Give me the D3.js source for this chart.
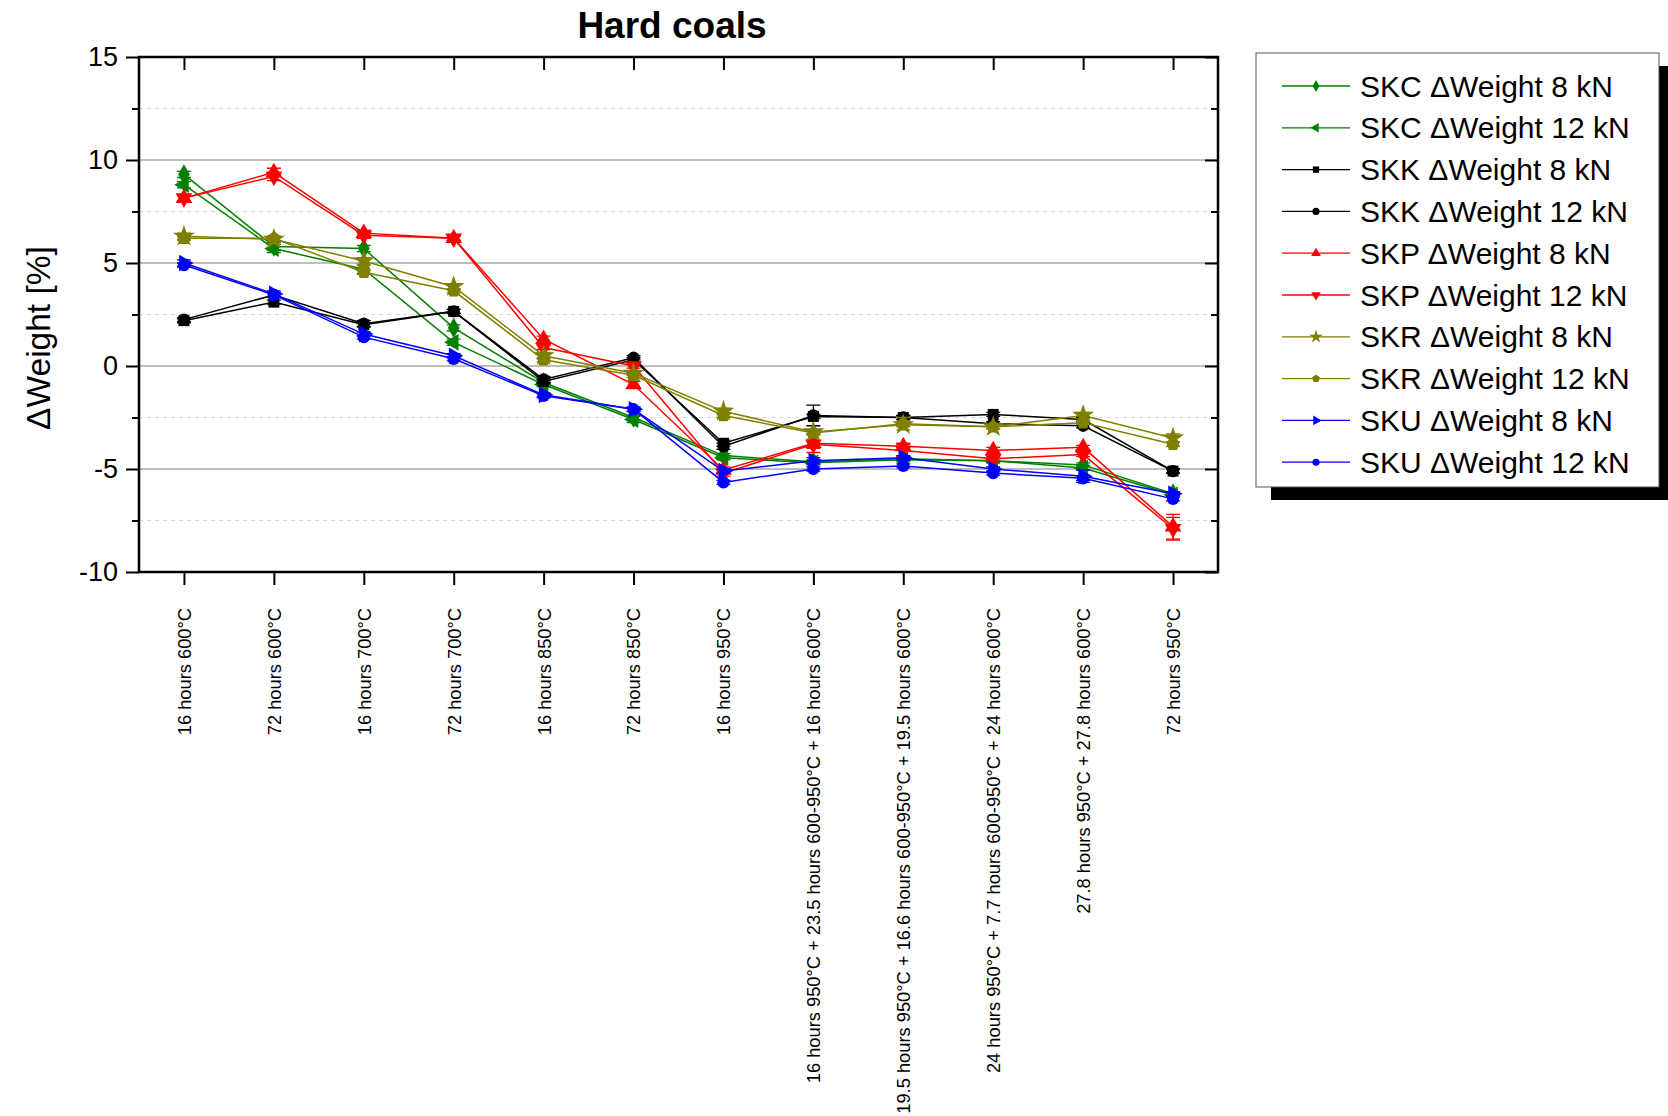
<!DOCTYPE html>
<html>
<head>
<meta charset="utf-8">
<script src="https://d3js.org/d3.v7.min.js"></script>
<style>
    body { margin: 0; background: #ffffff; }
    svg { display: block; font-family: "Liberation Sans", Arial, sans-serif; }
</style>
</head>
<body>
<svg id="drawing_region"></svg>
<script>
const categories = [
    "16 hours 600°C",
    "72 hours 600°C",
    "16 hours 700°C",
    "72 hours 700°C",
    "16 hours 850°C",
    "72 hours 850°C",
    "16 hours 950°C",
    "16 hours 950°C + 23.5 hours 600-950°C + 16 hours 600°C",
    "19.5 hours 950°C + 16.6 hours 600-950°C + 19.5 hours 600°C",
    "24 hours 950°C + 7.7 hours 600-950°C + 24 hours 600°C",
    "27.8 hours 950°C + 27.8 hours 600°C",
    "72 hours 950°C"
];

// Weight change [%] per sample and load
const skc8  = [9.3, 5.8, 5.7, 1.85, -0.8, -2.5, -4.35, -4.65, -4.5, -4.6, -4.8, -6.2];
const skc12 = [8.8, 5.7, 4.7, 1.15, -0.9, -2.6, -4.45, -4.7, -4.55, -4.6, -4.95, -6.25];
const skk8  = [2.2, 3.1, 2.0, 2.65, -0.75, 0.3, -3.75, -2.45, -2.5, -2.35, -2.6, -5.1];
const skk12 = [2.25, 3.45, 2.05, 2.65, -0.65, 0.4, -3.9, -2.4, -2.5, -2.8, -2.9, -5.1];
const skp8  = [8.15, 9.4, 6.45, 6.2, 1.3, -0.9, -5.05, -3.75, -3.9, -4.1, -3.95, -7.8];
const skp12 = [8.15, 9.2, 6.35, 6.2, 0.9, 0.0, -5.2, -3.8, -4.1, -4.5, -4.3, -7.9];
const skr8  = [6.3, 6.15, 5.1, 3.85, 0.5, -0.35, -2.2, -3.2, -2.85, -2.95, -2.4, -3.5];
const skr12 = [6.2, 6.2, 4.55, 3.65, 0.3, -0.45, -2.4, -3.25, -2.8, -2.95, -2.75, -3.8];
const sku8  = [5.0, 3.5, 1.55, 0.5, -1.4, -2.1, -5.1, -4.6, -4.45, -5.0, -5.35, -6.2];
const sku12 = [4.9, 3.45, 1.4, 0.35, -1.45, -2.1, -5.65, -5.0, -4.85, -5.2, -5.45, -6.45];

// error bars (+/-)
const skc8Err  = [0.15, 0.2, 0.15, 0.15, 0.1, 0.1, 0.1, 0.1, 0.1, 0.1, 0.1, 0.1];
const skc12Err = [0.15, 0.2, 0.2, 0.15, 0.1, 0.15, 0.1, 0.1, 0.1, 0.1, 0.1, 0.1];
const skk8Err  = [0.1, 0.1, 0.1, 0.1, 0.1, 0.1, 0.15, 0.1, 0.1, 0.1, 0.1, 0.1];
const skk12Err = [0.1, 0.1, 0.15, 0.1, 0.15, 0.1, 0.15, 0.5, 0.1, 0.1, 0.1, 0.1];
const skp8Err  = [0.15, 0.2, 0.15, 0.1, 0.15, 0.15, 0.15, 0.45, 0.15, 0.15, 0.1, 0.6];
const skp12Err = [0.15, 0.2, 0.15, 0.1, 0.1, 0.1, 0.15, 0.2, 0.3, 0.1, 0.1, 0.55];
const skr8Err  = [0.15, 0.1, 0.15, 0.15, 0.15, 0.1, 0.15, 0.1, 0.1, 0.1, 0.15, 0.2];
const skr12Err = [0.1, 0.1, 0.1, 0.1, 0.1, 0.1, 0.1, 0.1, 0.3, 0.1, 0.1, 0.1];
const sku8Err  = [0.15, 0.15, 0.1, 0.1, 0.1, 0.1, 0.1, 0.15, 0.1, 0.1, 0.3, 0.1];
const sku12Err = [0.1, 0.1, 0.1, 0.1, 0.1, 0.1, 0.1, 0.1, 0.1, 0.1, 0.1, 0.1];

const seriesNames = [
    "SKC \u0394Weight 8 kN", "SKC \u0394Weight 12 kN",
    "SKK \u0394Weight 8 kN", "SKK \u0394Weight 12 kN",
    "SKP \u0394Weight 8 kN", "SKP \u0394Weight 12 kN",
    "SKR \u0394Weight 8 kN", "SKR \u0394Weight 12 kN",
    "SKU \u0394Weight 8 kN", "SKU \u0394Weight 12 kN"
];
const seriesValues = [skc8, skc12, skk8, skk12, skp8, skp12, skr8, skr12, sku8, sku12];
const seriesErrors = [skc8Err, skc12Err, skk8Err, skk12Err, skp8Err, skp12Err, skr8Err, skr12Err, sku8Err, sku12Err];
const seriesColors = ["#008000", "#008000", "#000000", "#000000", "#ff0000", "#ff0000", "#808000", "#808000", "#0000ff", "#0000ff"];
const seriesShapes = ["diamond", "left", "square", "circle", "up", "down", "star", "pentagon", "right", "circle"];

const yTicks = [-10, -5, 0, 5, 10, 15];
const yMinorTicks = [-7.5, -2.5, 2.5, 7.5, 12.5];

const symbolPentagon = {
    draw(context, size) {
        const r = Math.sqrt(size / (2.5 * Math.sin(2 * Math.PI / 5)));
        for (let i = 0; i < 5; i++) {
            const a = -Math.PI / 2 + i * 2 * Math.PI / 5;
            if (i === 0) context.moveTo(r * Math.cos(a), r * Math.sin(a));
            else context.lineTo(r * Math.cos(a), r * Math.sin(a));
        }
        context.closePath();
    }
};

function shapeType(s) {
    if (s === "diamond") return d3.symbolDiamond;
    if (s === "square") return d3.symbolSquare;
    if (s === "circle") return d3.symbolCircle;
    if (s === "star") return d3.symbolStar;
    if (s === "pentagon") return symbolPentagon;
    return d3.symbolTriangle;
}
function shapeRotate(s) {
    if (s === "down") return 180;
    if (s === "left") return -90;
    if (s === "right") return 90;
    return 0;
}

class LineChart {
    constructor(config) {
        this.config = config;
        this.series = seriesNames.map((name, i) => ({
            name: name,
            values: seriesValues[i],
            errors: seriesErrors[i],
            color: seriesColors[i],
            shape: seriesShapes[i]
        }));
        this.init();
    }

    init() {
        let self = this;
        const c = self.config;

        self.svg = d3.select(c.parent)
            .attr('width', c.width)
            .attr('height', c.height);

        self.xscale = d3.scalePoint()
            .domain(categories)
            .range([c.plot.left, c.plot.right])
            .padding(0.5);

        self.yscale = d3.scaleLinear()
            .domain([-10, 15])
            .range([c.plot.bottom, c.plot.top]);
    }

    render() {
        let self = this;
        const c = self.config;
        const p = c.plot;

        // grid
        self.svg.append('g')
            .selectAll('line')
            .data(yMinorTicks)
            .join('line')
            .attr('x1', p.left).attr('x2', p.right)
            .attr('y1', d => self.yscale(d)).attr('y2', d => self.yscale(d))
            .attr('stroke', '#d6d6d6')
            .attr('stroke-width', 1)
            .attr('stroke-dasharray', '4,4');

        self.svg.append('g')
            .selectAll('line')
            .data([-5, 0, 5, 10])
            .join('line')
            .attr('x1', p.left).attr('x2', p.right)
            .attr('y1', d => self.yscale(d)).attr('y2', d => self.yscale(d))
            .attr('stroke', '#a8a8a8')
            .attr('stroke-width', 1.3);

        // series
        const line = d3.line()
            .x((d, i) => self.xscale(categories[i]))
            .y(d => self.yscale(d));

        self.series.forEach(s => {
            const g = self.svg.append('g');
            g.append('path')
                .datum(s.values)
                .attr('fill', 'none')
                .attr('stroke', s.color)
                .attr('stroke-width', 1.5)
                .attr('d', line);

            const pts = s.values.map((v, i) => ({ x: self.xscale(categories[i]), v: v, e: s.errors[i] }));

            g.selectAll('.err')
                .data(pts)
                .join('path')
                .attr('class', 'err')
                .attr('fill', 'none')
                .attr('stroke', s.color)
                .attr('stroke-width', 1.3)
                .attr('d', d => {
                    const y1 = self.yscale(d.v + d.e), y2 = self.yscale(d.v - d.e);
                    return `M${d.x - 7},${y1}H${d.x + 7}M${d.x},${y1}V${y2}M${d.x - 7},${y2}H${d.x + 7}`;
                });

            g.selectAll('.mark')
                .data(pts)
                .join('path')
                .attr('class', 'mark')
                .attr('fill', s.color)
                .attr('transform', d => `translate(${d.x},${self.yscale(d.v)}) rotate(${shapeRotate(s.shape)})`)
                .attr('d', d3.symbol().type(shapeType(s.shape)).size(s.shape === 'star' ? 150 : 120));
        });

        const hyphen = d => String(d).replace('\u2212', '-');

        // axes
        const yaxis = d3.axisLeft(self.yscale)
            .tickValues(yTicks)
            .tickSize(13)
            .tickPadding(8)
            .tickFormat(hyphen);
        const yg = self.svg.append('g')
            .attr('transform', `translate(${p.left},0)`)
            .call(yaxis);
        yg.select('.domain').remove();
        yg.selectAll('line').attr('stroke', '#000').attr('stroke-width', 2);
        yg.selectAll('text')
            .attr('font-size', 27)
            .attr('font-family', '"Liberation Sans", Arial, sans-serif')
            .attr('fill', '#000');

        const yminor = d3.axisLeft(self.yscale).tickValues(yMinorTicks).tickSize(7).tickFormat('');
        const ymg = self.svg.append('g').attr('transform', `translate(${p.left},0)`).call(yminor);
        ymg.select('.domain').remove();
        ymg.selectAll('line').attr('stroke', '#000').attr('stroke-width', 2);

        // right axis, inward ticks
        const ryg = self.svg.append('g').attr('transform', `translate(${p.right},0)`)
            .call(d3.axisLeft(self.yscale).tickValues(yTicks).tickSize(13).tickFormat(''));
        ryg.select('.domain').remove();
        ryg.selectAll('line').attr('stroke', '#000').attr('stroke-width', 2);
        const rymg = self.svg.append('g').attr('transform', `translate(${p.right},0)`)
            .call(d3.axisLeft(self.yscale).tickValues(yMinorTicks).tickSize(7).tickFormat(''));
        rymg.select('.domain').remove();
        rymg.selectAll('line').attr('stroke', '#000').attr('stroke-width', 2);

        // top axis, inward ticks
        const txg = self.svg.append('g').attr('transform', `translate(0,${p.top})`)
            .call(d3.axisBottom(self.xscale).tickSize(13).tickFormat(''));
        txg.select('.domain').remove();
        txg.selectAll('line').attr('stroke', '#000').attr('stroke-width', 2);

        // bottom axis
        const xg = self.svg.append('g').attr('transform', `translate(0,${p.bottom})`)
            .call(d3.axisBottom(self.xscale).tickSize(13));
        xg.select('.domain').remove();
        xg.selectAll('line').attr('stroke', '#000').attr('stroke-width', 2);
        xg.selectAll('text')
            .attr('font-size', 18.3)
            .attr('font-family', '"Liberation Sans", Arial, sans-serif')
            .attr('fill', '#000')
            .attr('text-anchor', 'end')
            .attr('transform', 'rotate(-90)')
            .attr('x', -36)
            .attr('y', 0)
            .attr('dy', '0.35em');

        // frame
        self.svg.append('rect')
            .attr('x', p.left).attr('y', p.top)
            .attr('width', p.right - p.left).attr('height', p.bottom - p.top)
            .attr('fill', 'none')
            .attr('stroke', '#000')
            .attr('stroke-width', 2.5);

        // title + y label
        self.svg.append('text')
            .attr('x', 672).attr('y', 38)
            .attr('text-anchor', 'middle')
            .attr('font-size', 37)
            .attr('font-weight', 'bold')
            .text('Hard coals');

        self.svg.append('text')
            .attr('transform', 'translate(38,338) rotate(-90)')
            .attr('text-anchor', 'middle')
            .attr('dy', '0.35em')
            .attr('font-size', 33.5)
            .text('\u0394Weight [%]');

        // legend
        const lg = self.svg.append('g');
        lg.append('rect')
            .attr('x', c.legend.x + 15).attr('y', c.legend.y + 13)
            .attr('width', c.legend.w).attr('height', c.legend.h)
            .attr('fill', '#000');
        lg.append('rect')
            .attr('x', c.legend.x).attr('y', c.legend.y)
            .attr('width', c.legend.w).attr('height', c.legend.h)
            .attr('fill', '#fff')
            .attr('stroke', '#555')
            .attr('stroke-width', 1);

        const rows = lg.selectAll('.row')
            .data(self.series)
            .join('g')
            .attr('class', 'row')
            .attr('transform', (d, i) => `translate(${c.legend.x},${c.legend.y + 33 + i * 41.8})`);
        rows.append('line')
            .attr('x1', 26).attr('x2', 94)
            .attr('stroke', d => d.color)
            .attr('stroke-width', 1.3);
        rows.append('path')
            .attr('transform', d => `translate(60,0) rotate(${shapeRotate(d.shape)})`)
            .attr('fill', d => d.color)
            .attr('d', d => d3.symbol().type(shapeType(d.shape)).size(d.shape === 'star' ? 55 : 40)());
        rows.append('text')
            .attr('x', 104)
            .attr('dy', '0.35em')
            .attr('font-size', 30)
            .text(d => d.name);
    }
}

const config = {
    parent: '#drawing_region',
    width: 1668,
    height: 1116,
    plot: { left: 139, right: 1218, top: 57, bottom: 572 },
    legend: { x: 1256, y: 53, w: 403, h: 434 }
};

const chart = new LineChart(config);
chart.render();
</script>
</body>
</html>
